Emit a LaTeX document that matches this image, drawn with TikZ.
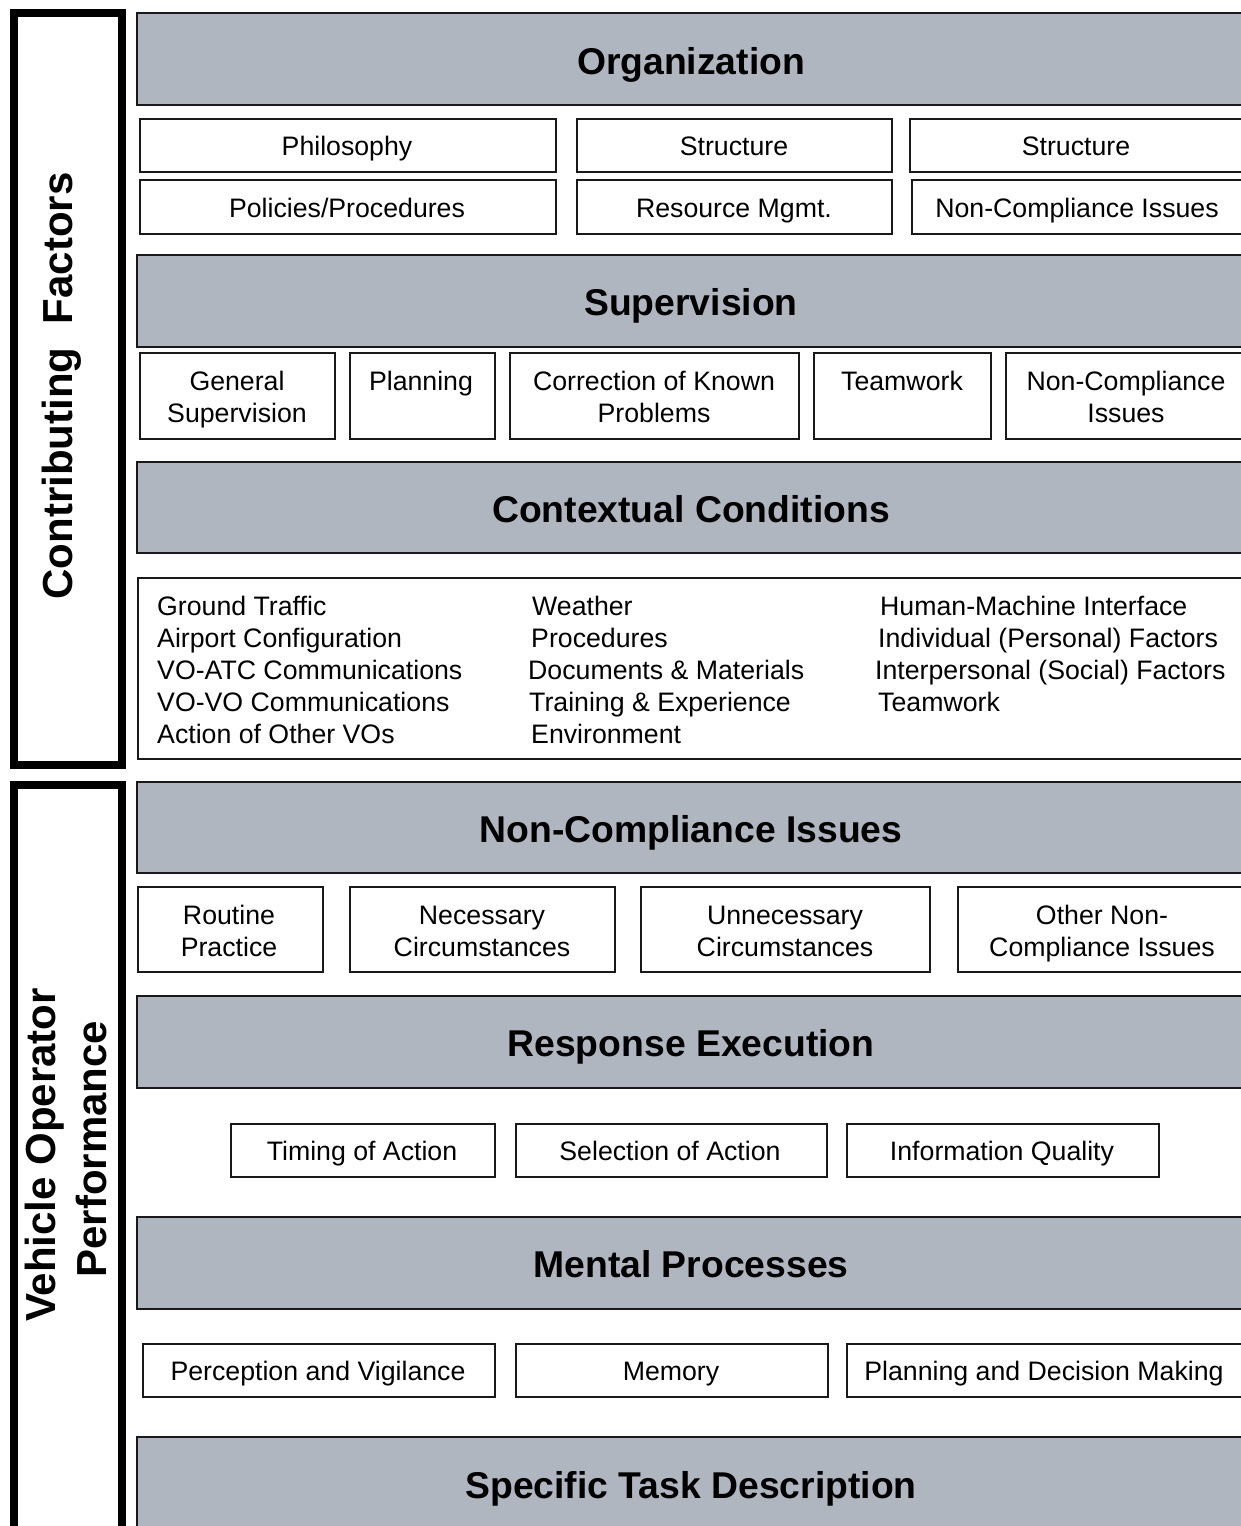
\documentclass[tikz,border=0pt]{standalone}
\usepackage{fontspec}
\setmainfont{Liberation Sans}
\definecolor{bandgray}{RGB}{175,182,192}
\definecolor{edge}{RGB}{25,25,25}
\tikzset{
  gbox/.style={draw=edge, line width=2pt, fill=bandgray, inner sep=0pt, anchor=north west},
  wbox/.style={draw=edge, line width=2pt, fill=white, inner sep=0pt, anchor=north west},
  sidebar/.style={draw=black, line width=8pt, inner sep=0pt, anchor=north west},
  lbl/.style={font=\fontsize{26.7}{32}\selectfont, inner sep=0pt, anchor=base},
  lblw/.style={font=\fontsize{26.7}{32}\selectfont, inner sep=0pt, anchor=base west},
  ttl/.style={font=\fontsize{37.3}{44}\selectfont\bfseries, inner sep=0pt, anchor=base},
  side/.style={font=\fontsize{42}{55}\selectfont\bfseries, inner sep=0pt, anchor=base, rotate=90, align=center}
}
\newcommand\boxat[6]{\node[#1, minimum width=#4pt-#2pt, minimum height=#5pt-#3pt] (#6) at (#2,#3) {};}
\begin{document}
\begin{tikzpicture}[x=1pt,y=-1pt]
\useasboundingbox (0,0) rectangle (1241,1526);
\clip (0,0) rectangle (1241,1526);
\fill[white] (0,0) rectangle (1241,1526);

% side bars
\boxat{sidebar}{10}{9}{118}{760.5}{cfbar}
\boxat{sidebar}{10}{781}{118}{1545}{vobar}
\node[side] (cftext) at (72,386) {Contributing\ \ Factors};
\node[side, anchor=base] (votext1) at (55,1155) {Vehicle Operator};
\node[side, anchor=base] (votext2) at (106,1149) {Performance};

% Organization
\boxat{gbox}{136}{12}{1255}{104}{org}
\node[ttl] (orgt) at (691,74) {Organization};
\boxat{wbox}{139}{118}{555}{171}{phil}
\node[lbl] at (347,155) {Philosophy};
\boxat{wbox}{576}{118}{891}{171}{struc}
\node[lbl] at (734,155) {Structure};
\boxat{wbox}{909}{118}{1255}{171}{struc2}
\node[lbl] at (1076,155) {Structure};
\boxat{wbox}{139}{179}{555}{233}{pol}
\node[lbl] at (347,217) {Policies/Procedures};
\boxat{wbox}{576}{179}{891}{233}{res}
\node[lbl] at (734,217) {Resource Mgmt.};
\boxat{wbox}{911}{179}{1255}{233}{nci}
\node[lbl] at (1077,217) {Non-Compliance Issues};

% Supervision
\boxat{gbox}{136}{254}{1255}{346}{sup}
\node[ttl] (supt) at (691,315) {Supervision};
\boxat{wbox}{139}{352}{334}{438}{gen}
\node[lbl] at (237,390) {General};
\node[lbl] at (237,422) {Supervision};
\boxat{wbox}{349}{352}{494}{438}{plan}
\node[lbl] at (421,390) {Planning};
\boxat{wbox}{509}{352}{798}{438}{corr}
\node[lbl] at (654,390) {Correction of Known};
\node[lbl] at (654,422) {Problems};
\boxat{wbox}{813}{352}{990}{438}{team}
\node[lbl] at (902,390) {Teamwork};
\boxat{wbox}{1005}{352}{1255}{438}{supnc}
\node[lbl] at (1126,390) {Non-Compliance};
\node[lbl] at (1126,422) {Issues};

% Contextual Conditions
\boxat{gbox}{136}{461}{1255}{552}{ctx}
\node[ttl] (ctxt) at (691,522) {Contextual Conditions};
\boxat{wbox}{137}{577}{1255}{758}{ctxlist}
\node[lblw] at (157,615) {Ground Traffic};
\node[lblw] at (157,647) {Airport Configuration};
\node[lblw] at (157,679) {VO-ATC Communications};
\node[lblw] at (157,711) {VO-VO Communications};
\node[lblw] at (157,743) {Action of Other VOs};
\node[lblw] at (532,615) {Weather};
\node[lblw] at (531,647) {Procedures};
\node[lblw] at (528,679) {Documents \& Materials};
\node[lblw] at (529,711) {Training \& Experience};
\node[lblw] at (531,743) {Environment};
\node[lblw] at (880,615) {Human-Machine Interface};
\node[lblw] at (878,647) {Individual (Personal) Factors};
\node[lblw] at (875,679) {Interpersonal (Social) Factors};
\node[lblw] at (878,711) {Teamwork};

% Non-Compliance Issues
\boxat{gbox}{136}{781}{1255}{872}{nc}
\node[ttl] (nct) at (691,842) {Non-Compliance Issues};
\boxat{wbox}{137}{886}{322}{971}{rout}
\node[lbl] at (229,924) {Routine};
\node[lbl] at (229,956) {Practice};
\boxat{wbox}{349}{886}{614}{971}{nec}
\node[lbl] at (482,924) {Necessary};
\node[lbl] at (482,956) {Circumstances};
\boxat{wbox}{640}{886}{929}{971}{unnec}
\node[lbl] at (785,924) {Unnecessary};
\node[lbl] at (785,956) {Circumstances};
\boxat{wbox}{957}{886}{1255}{971}{other}
\node[lbl] at (1102,924) {Other Non-};
\node[lbl] at (1102,956) {Compliance Issues};

% Response Execution
\boxat{gbox}{136}{995}{1255}{1087}{re}
\node[ttl] (ret) at (691,1056) {Response Execution};
\boxat{wbox}{230}{1123}{494}{1176}{timing}
\node[lbl] at (362,1160) {Timing of Action};
\boxat{wbox}{515}{1123}{826}{1176}{sel}
\node[lbl] at (670,1160) {Selection of Action};
\boxat{wbox}{846}{1123}{1158}{1176}{info}
\node[lbl] at (1002,1160) {Information Quality};

% Mental Processes
\boxat{gbox}{136}{1216}{1255}{1308}{mp}
\node[ttl] (mpt) at (691,1277) {Mental Processes};
\boxat{wbox}{142}{1343}{494}{1396}{perc}
\node[lbl] at (318,1380) {Perception and Vigilance};
\boxat{wbox}{515}{1343}{827}{1396}{mem}
\node[lbl] at (671,1380) {Memory};
\boxat{wbox}{846}{1343}{1255}{1396}{pdm}
\node[lbl] at (1044,1380) {Planning and Decision Making};

% Specific Task Description
\boxat{gbox}{136}{1436}{1255}{1545}{std}
\node[ttl] (stdt) at (691,1498) {Specific Task Description};
\end{tikzpicture}
\end{document}
